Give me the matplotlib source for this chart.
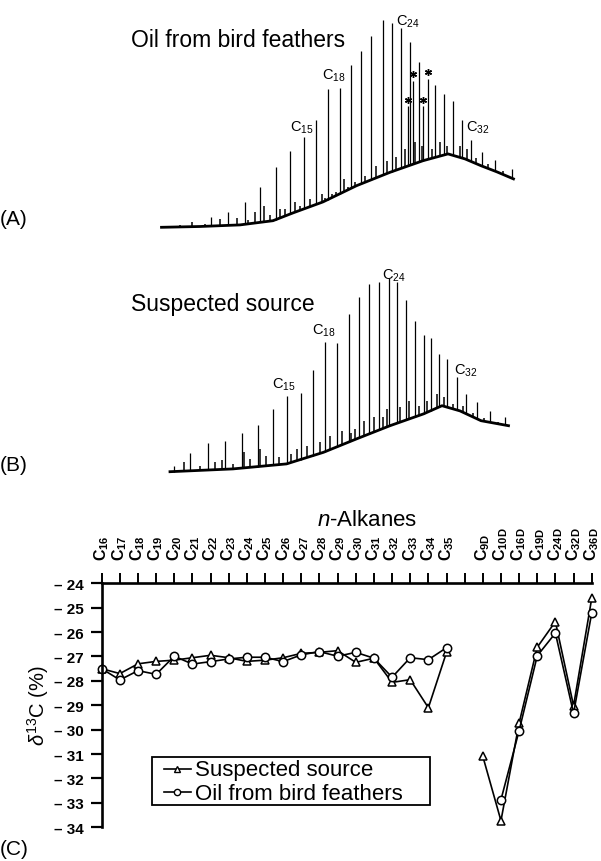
import numpy as np
import matplotlib
matplotlib.use('Agg')
import matplotlib.pyplot as plt
from matplotlib.patches import Rectangle

plt.rcParams['font.family'] = ['Liberation Sans', 'DejaVu Sans']
plt.rcParams['mathtext.fontset'] = 'custom'
plt.rcParams['mathtext.rm'] = 'Liberation Sans'
plt.rcParams['mathtext.it'] = 'Liberation Sans:italic'
plt.rcParams['mathtext.bf'] = 'Liberation Sans:bold'
plt.rcParams['mathtext.default'] = 'regular'

W, H = 601, 862

# ---------------- Chromatogram (A): oil from bird feathers ----------------
a_peak_t = [10.1, 13.5, 16.9, 20.0, 23.1, 25.9, 28.7, 31.2, 33.5, 36.0, 38.2, 40.2, 42.2, 44.5, 46.3,
            48.2, 49.5, 50.0, 50.5, 51.8, 52.5, 53.5, 55.0, 56.7, 58.5, 60.3, 62.2, 64.3, 67.0, 70.3]
a_peak_h = [5.0, 7.8, 12.8, 20.3, 30.0, 38.3, 45.0, 53.7, 69.2, 69.5, 81.2, 88.3, 95.8, 103.8, 102.2,
            99.7, 60.8, 92.5, 73.3, 82.8, 60.5, 74.2, 71.2, 66.7, 63.0, 53.7, 43.8, 37.5, 33.8, 29.2]
a_base_t = [0.3, 8.0, 16.0, 22.6, 26.6, 32.6, 39.3, 46.0, 52.6, 57.6, 61.0, 64.2, 67.4, 70.7]
a_base_h = [0.0, 0.4, 1.2, 3.3, 7.2, 12.7, 20.8, 27.5, 33.3, 36.7, 34.2, 30.8, 27.7, 24.2]
a_minor_t = [4.0, 6.3, 9.0, 12.0, 15.3, 17.5, 19.0, 20.7, 22.0, 24.0, 25.0, 27.0, 28.0, 30.0, 32.3,
             33.0, 34.3, 35.2, 36.7, 37.5, 39.0, 41.0, 41.7, 43.2, 45.3, 47.2, 49.0, 51.0, 52.3,
             54.3, 56.0, 57.3, 59.9, 61.4, 63.2, 65.5, 68.5]
a_minor_h = [1.2, 2.5, 1.8, 4.2, 4.5, 3.5, 7.5, 10.8, 6.0, 9.2, 9.2, 12.5, 10.5, 14.2, 16.7,
             14.5, 16.7, 17.5, 24.2, 20.0, 22.5, 25.8, 23.5, 30.8, 33.3, 35.0, 39.2, 42.5, 40.8,
             39.2, 42.5, 40.8, 40.8, 39.2, 34.5, 31.5, 28.0]
a_star_t = [49.5, 50.5, 52.5, 53.5]
a_star_h = [63.8, 76.7, 63.8, 77.5]
a_label_text = ['C$_{15}$', 'C$_{18}$', 'C$_{24}$', 'C$_{32}$']
a_label_t = [26.0, 32.3, 47.3, 61.2]
a_label_h = [48.3, 74.2, 101.4, 48.3]

# ---------------- Chromatogram (B): suspected source ----------------
b_peak_t = [2.8, 6.0, 9.5, 13.0, 16.3, 19.5, 22.5, 25.3, 28.1, 30.5, 33.0, 35.3, 37.7, 39.8, 41.8,
            43.7, 45.7, 47.3, 49.2, 51.0, 52.7, 54.2, 55.8, 57.3, 59.4, 61.2, 63.4, 65.9, 69.0]
b_peak_h = [3.0, 9.4, 14.2, 15.5, 19.4, 23.5, 31.4, 38.0, 39.4, 51.0, 65.0, 64.2, 78.9, 87.2, 93.9,
            94.7, 96.7, 94.7, 86.0, 75.5, 68.4, 66.7, 58.9, 56.4, 47.2, 38.9, 34.7, 30.5, 27.2]
b_base_t = [2.0, 14.6, 25.3, 32.7, 39.3, 46.0, 52.7, 56.4, 60.0, 64.2, 69.7]
b_base_h = [0.0, 1.4, 3.9, 9.7, 16.4, 23.0, 28.9, 33.0, 30.4, 25.5, 23.0]
b_minor_t = [4.7, 8.0, 11.0, 12.3, 14.5, 16.7, 18.0, 20.0, 21.2, 23.7, 26.2, 27.3, 29.3, 32.0, 34.0,
             36.3, 38.2, 39.0, 40.7, 42.7, 44.5, 45.3, 48.0, 49.7, 51.7, 53.3, 55.3, 56.7, 58.5,
             60.5, 62.5, 64.8, 67.5]
b_minor_h = [4.7, 3.0, 4.7, 6.0, 4.0, 9.7, 6.5, 11.4, 8.0, 7.2, 9.0, 11.4, 13.0, 14.7, 18.0,
             20.5, 19.5, 21.4, 25.5, 27.2, 27.5, 31.4, 32.2, 35.5, 33.0, 35.5, 38.9, 37.2, 34.0,
             33.0, 29.5, 27.0, 25.0]
b_label_text = ['C$_{15}$', 'C$_{18}$', 'C$_{24}$', 'C$_{32}$']
b_label_t = [22.3, 30.3, 44.3, 58.8]
b_label_h = [41.9, 68.9, 96.4, 48.9]

# ---------------- (C) compound-specific d13C ----------------
compounds = ['16', '17', '18', '19', '20', '21', '22', '23', '24', '25', '26', '27', '28', '29',
             '30', '31', '32', '33', '34', '35', '', '9D', '10D', '16D', '19D', '24D', '32D', '36D']
suspected = [-27.5, -27.7, -27.3, -27.2, -27.15, -27.05, -26.95, -27.05, -27.2, -27.15,
             -27.05, -26.87, -26.83, -26.76, -27.24, -27.07, -28.06, -27.95, -29.1, -26.83,
             np.nan, -31.09, -33.73, -29.73, -26.62, -25.57, -29.02, -24.62]
oil = [-27.5, -27.96, -27.58, -27.73, -26.99, -27.31, -27.21, -27.1, -27.03, -27.03,
       -27.21, -26.93, -26.8, -26.99, -26.83, -27.07, -27.85, -27.05, -27.13, -26.64,
       np.nan, np.nan, -32.87, -30.04, -26.97, -26.04, -29.33, -25.22]
series_names = ['Suspected source', 'Oil from bird feathers']
y_ticks = [-34, -33, -32, -31, -30, -29, -28, -27, -26, -25, -24]
y_tick_labels = ['\u2013 34', '\u2013 33', '\u2013 32', '\u2013 31', '\u2013 30', '\u2013 29',
                 '\u2013 28', '\u2013 27', '\u2013 26', '\u2013 25', '\u2013 24']

fig = plt.figure(figsize=(W / 100, H / 100), dpi=100)


def px_axes(left, top, right, bottom, **kw):
    return fig.add_axes([left / W, 1 - bottom / H, (right - left) / W, (bottom - top) / H], **kw)


def draw_chrom(ax, base_t, base_h, peak_t, peak_h, minor_t, minor_h, lab_t, lab_h, lab_text):
    ax.plot(base_t, base_h, color='k', lw=2.0, solid_joinstyle='round')
    ax.vlines(minor_t, np.interp(minor_t, base_t, base_h), minor_h, color='k', lw=1.1)
    ax.vlines(peak_t, np.interp(peak_t, base_t, base_h), peak_h, color='k', lw=0.9)
    for t, h, s in zip(lab_t, lab_h, lab_text):
        ax.text(t, h, s, fontsize=10.5, ha='left', va='baseline')
    ax.set_xlim(-4, 74)
    ax.set_ylim(-6, 110)
    ax.axis('off')


axA = px_axes(140, 8.3, 530, 240.3)
draw_chrom(axA, a_base_t, a_base_h, a_peak_t, a_peak_h, a_minor_t, a_minor_h,
           a_label_t, a_label_h, a_label_text)
axA.plot(a_star_t, a_star_h, ls='none', marker=(6, 2, 0), ms=5, mew=1.0, color='k')

axB = px_axes(140, 252.7, 530, 484.7)
draw_chrom(axB, b_base_t, b_base_h, b_peak_t, b_peak_h, b_minor_t, b_minor_h,
           b_label_t, b_label_h, b_label_text)

fig.text(131 / W, 1 - 46.7 / H, 'Oil from bird feathers', fontsize=16.5, ha='left', va='baseline')
fig.text(131 / W, 1 - 311 / H, 'Suspected source', fontsize=16.5, ha='left', va='baseline')
fig.text(0, 1 - 225 / H, '(A)', fontsize=15, ha='left', va='baseline')
fig.text(0, 1 - 471 / H, '(B)', fontsize=15, ha='left', va='baseline')
fig.text(0, 1 - 855 / H, '(C)', fontsize=15, ha='left', va='baseline')

# ---- panel C
axC = px_axes(101.7, 584.3, 591.7, 828.3)
x = np.arange(len(compounds))
styles = [dict(marker='^', ms=5.5), dict(marker='o', ms=6)]
for vals, name, st in zip([suspected, oil], series_names, styles):
    axC.plot(x, vals, '-', color='k', lw=1.2, mfc='white', mec='k', mew=1.1,
             clip_on=False, label=name, **st)
axC.set_xlim(0, len(compounds) - 1)
axC.set_ylim(-34, -24)
for s in ['bottom', 'right']:
    axC.spines[s].set_visible(False)
for s in ['top', 'left']:
    axC.spines[s].set_linewidth(1.9)
axC.xaxis.tick_top()
axC.set_xticks(x)
axC.set_xticklabels([('$\\mathbf{C}_{\\mathbf{%s}}$' % c) if c else '' for c in compounds],
                    rotation=90, fontsize=11.5)
axC.tick_params(axis='x', direction='out', length=7.5, width=1.4, pad=9)
axC.set_yticks(y_ticks)
axC.set_yticklabels(y_tick_labels, fontsize=11, fontweight='bold')
axC.tick_params(axis='y', direction='out', length=8, width=1.6, pad=5)

fig.text(37.6 / W, 1 - 706 / H, r'$\mathit{\delta}^{13}$C (%)', fontsize=14.5, rotation=90,
         ha='center', va='center')
fig.text(366.7 / W, 1 - 526 / H, r'$\mathit{n}$-Alkanes', fontsize=16, ha='center', va='baseline')

# ---- legend (drawn in figure pixel space)
axL = px_axes(0, 0, W, H, zorder=10)
axL.set_xlim(0, W)
axL.set_ylim(H, 0)
axL.axis('off')
axL.add_patch(Rectangle((152, 758), 278, 48, fill=False, ec='k', lw=1.3))
for row, (name, st) in enumerate(zip(series_names, styles)):
    yy = 770 + row * 23.5
    axL.plot([163.7, 191], [yy, yy], color='k', lw=1.2)
    axL.plot([177.3], [yy], color='k', mfc='white', mec='k', mew=1.0,
             marker=st['marker'], ms=st['ms'] * 0.75)
    axL.text(194.8, yy + 6.5, name, fontsize=16, ha='left', va='baseline')

fig.savefig('out.png', dpi=100)
